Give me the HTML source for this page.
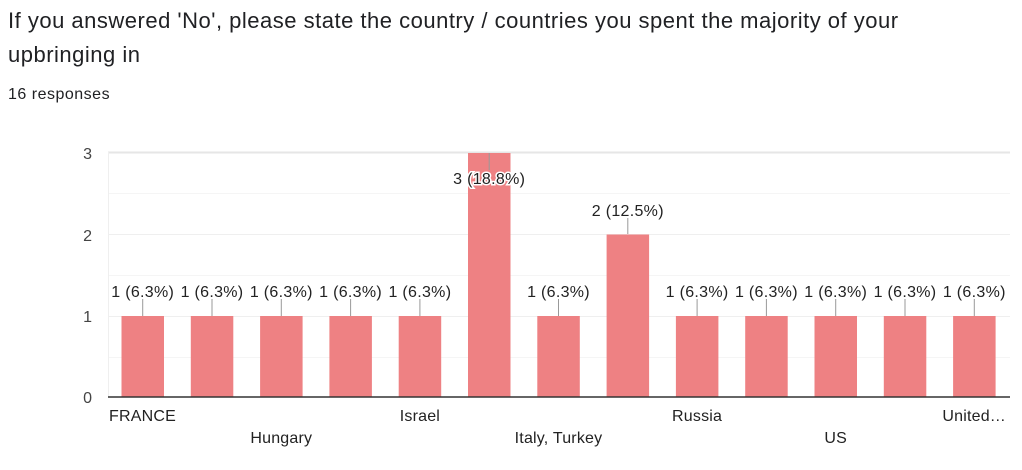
<!DOCTYPE html><html><head><meta charset="utf-8"><style>
body{margin:0;width:1022px;height:470px;background:#fff;font-family:"Liberation Sans",Arial,sans-serif;overflow:hidden}
.t{position:absolute;left:8px;top:4px;font-size:22px;letter-spacing:0.5px;line-height:34px;color:#202124;width:1010px}
.r{position:absolute;left:8px;top:86px;font-size:16px;letter-spacing:0.5px;color:#202124}
svg{position:absolute;left:0;top:0}
</style></head><body>
<div class="t">If you answered 'No', please state the country / countries you spent the majority of your<br>upbringing in</div>
<div class="r">16 responses</div>
<svg width="1022" height="470" font-family="Liberation Sans, Arial, sans-serif" font-size="16" fill="#222">
<g stroke="#efefef" stroke-width="1">
<line x1="108" x2="1010" y1="152.5" y2="152.5" stroke="#e6e6e6" stroke-width="2"/>
<line x1="108" x2="1010" y1="193.5" y2="193.5" stroke="#f5f5f5"/>
<line x1="108" x2="1010" y1="234.5" y2="234.5"/>
<line x1="108" x2="1010" y1="275.5" y2="275.5" stroke="#f5f5f5"/>
<line x1="108" x2="1010" y1="316.5" y2="316.5"/>
<line x1="108" x2="1010" y1="357.5" y2="357.5" stroke="#f5f5f5"/>
<line x1="108.5" x2="108.5" y1="152" y2="397"/>
</g>
<g fill="#444" text-anchor="end">
<text x="92" y="159">3</text><text x="92" y="241">2</text><text x="92" y="322">1</text><text x="92" y="403">0</text>
</g>
<g fill="#ee8183">
<rect x="121.5" y="316" width="42.5" height="81"/>
<rect x="190.8" y="316" width="42.5" height="81"/>
<rect x="260.1" y="316" width="42.5" height="81"/>
<rect x="329.4" y="316" width="42.5" height="81"/>
<rect x="398.7" y="316" width="42.5" height="81"/>
<rect x="468" y="153" width="42.5" height="244"/>
<rect x="537.3" y="316" width="42.5" height="81"/>
<rect x="606.6" y="234.5" width="42.5" height="162.5"/>
<rect x="675.9" y="316" width="42.5" height="81"/>
<rect x="745.2" y="316" width="42.5" height="81"/>
<rect x="814.5" y="316" width="42.5" height="81"/>
<rect x="883.8" y="316" width="42.5" height="81"/>
<rect x="953.1" y="316" width="42.5" height="81"/>
</g>
<line x1="108" x2="1010" y1="397" y2="397" stroke="#333" stroke-width="1.5"/>
<g stroke="#999">
<line x1="142.7" x2="142.7" y1="299" y2="316"/><line x1="212" x2="212" y1="299" y2="316"/>
<line x1="281.3" x2="281.3" y1="299" y2="316"/><line x1="350.6" x2="350.6" y1="299" y2="316"/>
<line x1="419.9" x2="419.9" y1="299" y2="316"/><line x1="489.2" x2="489.2" y1="153" y2="170"/>
<line x1="558.5" x2="558.5" y1="299" y2="316"/><line x1="627.8" x2="627.8" y1="218" y2="234"/>
<line x1="697.1" x2="697.1" y1="299" y2="316"/><line x1="766.4" x2="766.4" y1="299" y2="316"/>
<line x1="835.7" x2="835.7" y1="299" y2="316"/><line x1="905" x2="905" y1="299" y2="316"/>
<line x1="974.3" x2="974.3" y1="299" y2="316"/>
</g>
<g text-anchor="middle" letter-spacing="0.3">
<text x="142.7" y="297">1 (6.3%)</text><text x="212" y="297">1 (6.3%)</text><text x="281.3" y="297">1 (6.3%)</text>
<text x="350.6" y="297">1 (6.3%)</text><text x="419.9" y="297">1 (6.3%)</text>
<text x="489.2" y="184" stroke="#fff" stroke-width="3" paint-order="stroke">3 (18.8%)</text>
<text x="558.5" y="297">1 (6.3%)</text><text x="627.8" y="216">2 (12.5%)</text>
<text x="697.1" y="297">1 (6.3%)</text><text x="766.4" y="297">1 (6.3%)</text><text x="835.7" y="297">1 (6.3%)</text>
<text x="905" y="297">1 (6.3%)</text><text x="974.3" y="297">1 (6.3%)</text>
</g>
<g fill="#222" letter-spacing="0.2">
<text x="109" y="421">FRANCE</text>
<text x="281.3" y="443" text-anchor="middle">Hungary</text>
<text x="419.9" y="421" text-anchor="middle">Israel</text>
<text x="558.5" y="443" text-anchor="middle">Italy, Turkey</text>
<text x="697.1" y="421" text-anchor="middle">Russia</text>
<text x="835.7" y="443" text-anchor="middle">US</text>
<text x="1006" y="421" text-anchor="end">United…</text>
</g>
</svg>
</body></html>
